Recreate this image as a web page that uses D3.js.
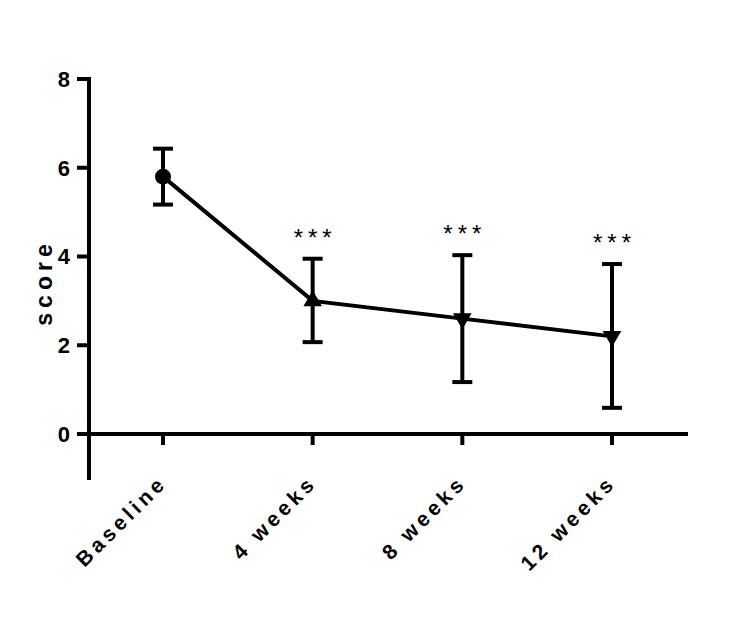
<!DOCTYPE html>
<html><head><meta charset="utf-8">
<script src="https://cdn.jsdelivr.net/npm/d3@7"></script>
<style>body{margin:0;background:#fff}svg{display:block}</style>
</head><body>
<script>
const categories = ["Baseline", "4 weeks", "8 weeks", "12 weeks"];
const means = [5.8, 3.0, 2.6, 2.2];
const upper = [6.43, 3.95, 4.03, 3.83];
const lower = [5.17, 2.07, 1.17, 0.59];
const markers = ["circle", "up", "down", "down"];
const signif = ["", "***", "***", "***"];
const yTicks = [0, 2, 4, 6, 8];

const W = 733, H = 633;
const svg = d3.select("body").append("svg").attr("width", W).attr("height", H);
const x = d3.scalePoint().domain(categories).range([163, 612]);
const y = d3.scaleLinear().domain([0, 8]).range([434, 79]);
const font = "Liberation Sans, Arial, sans-serif";
const sw = 4;

// y axis
const yAxisX = 89;
const gy = svg.append("g").attr("transform", `translate(${yAxisX},0)`);
gy.append("line").attr("x1", 0).attr("x2", 0).attr("y1", y(8) - 2).attr("y2", 480)
  .attr("stroke", "#000").attr("stroke-width", sw);
gy.selectAll("line.t").data(yTicks).join("line").attr("class", "t")
  .attr("x1", -12).attr("x2", 0).attr("y1", d => y(d)).attr("y2", d => y(d))
  .attr("stroke", "#000").attr("stroke-width", sw);
gy.selectAll("text").data(yTicks).join("text")
  .attr("x", -19).attr("y", d => y(d)).attr("dy", "0.36em")
  .attr("text-anchor", "end").attr("font-family", font).attr("font-weight", "bold")
  .attr("font-size", 22).text(d => d);

// x axis
svg.append("line").attr("x1", yAxisX).attr("x2", 688).attr("y1", y(0)).attr("y2", y(0))
  .attr("stroke", "#000").attr("stroke-width", sw);
svg.selectAll("line.xt").data(categories).join("line").attr("class", "xt")
  .attr("x1", d => x(d)).attr("x2", d => x(d)).attr("y1", y(0)).attr("y2", y(0) + 11)
  .attr("stroke", "#000").attr("stroke-width", sw);
svg.selectAll("text.xl").data(categories).join("text").attr("class", "xl")
  .attr("transform", d => `translate(${x(d)},${y(0) + 45}) rotate(-45)`)
  .attr("text-anchor", "end").attr("dy", "0.35em")
  .attr("font-family", font).attr("font-weight", "bold").attr("font-size", 21)
  .attr("letter-spacing", 4).text(d => d);

// y label
svg.append("text").attr("transform", `translate(52,${(y(0) + y(8)) / 2 + 26}) rotate(-90)`)
  .attr("text-anchor", "middle").attr("font-family", font).attr("font-weight", "bold")
  .attr("font-size", 23).attr("letter-spacing", 5).text("score");

// line
const data = categories.map((c, i) => ({c, m: means[i], u: upper[i], l: lower[i], mk: markers[i], s: signif[i]}));
svg.append("path").datum(data)
  .attr("d", d3.line().x(d => x(d.c)).y(d => y(d.m)))
  .attr("fill", "none").attr("stroke", "#000").attr("stroke-width", sw);

// error bars
const cap = 10;
const eb = svg.append("g").attr("stroke", "#000").attr("stroke-width", sw);
data.forEach(d => {
  eb.append("line").attr("x1", x(d.c)).attr("x2", x(d.c)).attr("y1", y(d.u)).attr("y2", y(d.l));
  eb.append("line").attr("x1", x(d.c) - cap).attr("x2", x(d.c) + cap).attr("y1", y(d.u)).attr("y2", y(d.u));
  eb.append("line").attr("x1", x(d.c) - cap).attr("x2", x(d.c) + cap).attr("y1", y(d.l)).attr("y2", y(d.l));
});

// markers
const symMap = {circle: d3.symbolCircle, up: d3.symbolTriangle, down: d3.symbolTriangle};
svg.selectAll("path.mk").data(data).join("path").attr("class", "mk")
  .attr("d", d => d3.symbol().type(symMap[d.mk]).size(d.mk === "circle" ? 200 : 150)())
  .attr("transform", d => `translate(${x(d.c)},${y(d.m)})` + (d.mk === "down" ? " rotate(180)" : ""))
  .attr("fill", "#000");

// significance
svg.selectAll("text.sig").data(data.filter(d => d.s)).join("text").attr("class", "sig")
  .attr("x", d => x(d.c) + 2.5).attr("y", d => y(d.u) - 13)
  .attr("text-anchor", "middle").attr("font-family", font).attr("font-size", 24)
  .attr("letter-spacing", 5).text(d => d.s);
</script>
</body></html>
